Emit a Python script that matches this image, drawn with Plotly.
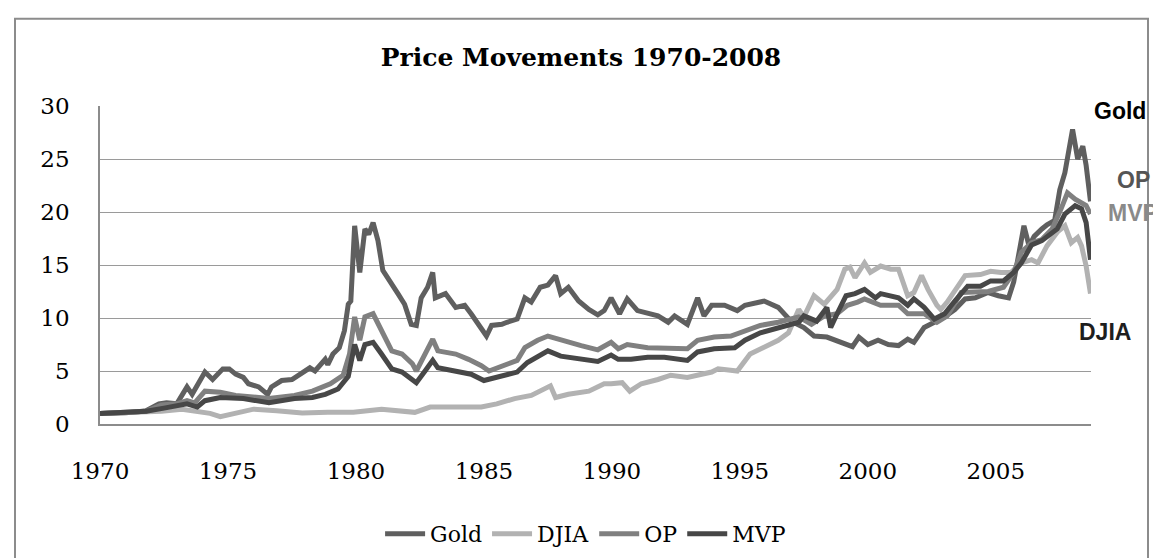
import plotly.graph_objects as go

# ---------------- data ----------------
gold_years = [1970.0, 1970.5, 1971.0, 1971.5, 1971.8, 1972.3, 1972.6, 1973.0, 1973.4, 1973.6,
              1974.1, 1974.4, 1974.8, 1975.05, 1975.3, 1975.6, 1975.8, 1976.2, 1976.55, 1976.7,
              1977.1, 1977.5, 1977.9, 1978.2, 1978.4, 1978.8, 1978.9, 1979.1, 1979.35, 1979.55,
              1979.7, 1979.8, 1979.95, 1980.15, 1980.35, 1980.5, 1980.67, 1980.86, 1981.05, 1981.25,
              1981.64, 1981.9, 1982.16, 1982.36, 1982.55, 1982.8, 1983.0, 1983.1, 1983.5, 1983.9,
              1984.25, 1984.5, 1984.8, 1985.1, 1985.3, 1985.7, 1985.9, 1986.3, 1986.6, 1986.85,
              1987.2, 1987.5, 1987.8, 1988.0, 1988.3, 1988.7, 1989.1, 1989.45, 1989.7, 1989.97,
              1990.3, 1990.6, 1991.0, 1991.4, 1991.8, 1992.2, 1992.45, 1992.95, 1993.35, 1993.6,
              1993.9, 1994.4, 1994.9, 1995.2, 1995.8, 1995.95, 1996.5, 1997.0, 1997.5, 1997.9,
              1998.4, 1999.1, 1999.4, 1999.65, 2000.0, 2000.4, 2000.8, 2001.2, 2001.56, 2001.8,
              2002.2, 2002.6, 2003.0, 2003.4, 2003.8, 2004.2, 2004.7, 2005.1, 2005.5, 2005.7,
              2006.1, 2006.3, 2006.5, 2006.8, 2007.0, 2007.3, 2007.5, 2007.7, 2007.87, 2008.0,
              2008.2, 2008.4, 2008.53, 2008.7]
gold_values = [1.0, 1.0, 1.05, 1.15, 1.26, 1.9, 2.0, 1.9, 3.5, 2.8,
               4.9, 4.2, 5.2, 5.2, 4.7, 4.4, 3.8, 3.5, 2.8, 3.5,
               4.1, 4.2, 4.9, 5.3, 5.0, 6.1, 5.6, 6.6, 7.2, 8.8,
               11.3, 11.6, 18.7, 14.3, 18.4, 17.9, 19.0, 17.3, 14.5, 13.8,
               12.3, 11.3, 9.4, 9.3, 11.9, 12.9, 14.3, 11.9, 12.3, 11.0,
               11.2, 10.4, 9.3, 8.3, 9.3, 9.4, 9.6, 9.9, 11.9, 11.5,
               12.9, 13.1, 14.0, 12.3, 12.9, 11.6, 10.8, 10.3, 10.7, 11.9,
               10.4, 11.8, 10.7, 10.4, 10.2, 9.6, 10.2, 9.4, 11.9, 10.2,
               11.2, 11.2, 10.7, 11.2, 11.5, 11.6, 11.0, 9.7, 9.1, 8.3,
               8.2, 7.5, 7.3, 8.2, 7.5, 7.9, 7.5, 7.4, 8.0, 7.7,
               9.1, 9.6, 10.1, 10.8, 11.8, 11.9, 12.4, 12.1, 11.9, 13.4,
               18.7, 16.8, 17.7, 18.4, 18.8, 19.2, 22.1, 23.7, 26.2, 27.8,
               25.0, 26.2, 24.4, 21.0]

djia_years = [1970.0, 1971.0, 1971.8, 1972.4, 1973.2, 1973.7, 1974.3, 1974.7, 1975.3, 1976.0,
              1976.9, 1977.9, 1978.9, 1979.9, 1981.0, 1982.3, 1982.9, 1983.6, 1984.2, 1984.9,
              1985.5, 1986.2, 1986.85, 1987.5, 1987.6, 1987.8, 1988.3, 1989.1, 1989.7, 1989.97,
              1990.4, 1990.7, 1991.15, 1991.8, 1992.3, 1992.95, 1993.9, 1994.15, 1994.65, 1994.9,
              1995.4, 1995.95, 1996.5, 1996.9, 1997.3, 1997.5, 1997.9, 1998.3, 1998.8, 1999.1,
              1999.3, 1999.5, 1999.87, 2000.1, 2000.5, 2000.9, 2001.2, 2001.56, 2001.8, 2002.1,
              2002.35, 2002.7, 2002.85, 2003.1, 2003.5, 2003.8, 2004.4, 2004.8, 2005.2, 2005.6,
              2006.0, 2006.4, 2006.65, 2007.0, 2007.4, 2007.7, 2007.95, 2008.2, 2008.35, 2008.53,
              2008.7]
djia_values = [1.0, 1.05, 1.15, 1.2, 1.4, 1.2, 1.0, 0.7, 1.0, 1.4,
               1.26, 1.04, 1.1, 1.1, 1.4, 1.1, 1.6, 1.6, 1.6, 1.6,
               1.9, 2.4, 2.7, 3.5, 3.6, 2.5, 2.8, 3.1, 3.8, 3.8,
               3.9, 3.1, 3.8, 4.2, 4.6, 4.4, 4.9, 5.2, 5.0, 5.0,
               6.6, 7.2, 7.9, 8.6, 10.8, 10.1, 12.1, 11.3, 12.7, 14.6,
               14.8, 13.8, 15.2, 14.3, 14.9, 14.6, 14.6, 12.1, 12.4, 14.0,
               12.7, 11.2, 10.8, 11.5, 12.9, 14.0, 14.1, 14.4, 14.3, 14.3,
               15.2, 15.5, 15.2, 16.8, 18.1, 18.7, 17.1, 17.6, 16.8, 14.9,
               12.3]

op_years = [1970.0, 1971.0, 1971.8, 1972.4, 1973.0, 1973.4, 1973.7, 1974.1, 1974.7, 1975.3,
            1976.0, 1976.6, 1977.6, 1978.3, 1979.0, 1979.5, 1979.75, 1979.95, 1980.15, 1980.35,
            1980.67, 1981.0, 1981.4, 1981.8, 1982.2, 1982.36, 1982.7, 1983.0, 1983.2, 1983.9,
            1984.4, 1984.9, 1985.2, 1985.8, 1986.3, 1986.6, 1987.1, 1987.5, 1988.0, 1988.8,
            1989.45, 1989.97, 1990.25, 1990.6, 1991.4, 1992.05, 1992.95, 1993.35, 1994.0, 1994.65,
            1995.2, 1995.8, 1996.5, 1997.3, 1997.8, 1998.3, 1998.8, 1999.2, 1999.6, 1999.87,
            2000.5, 2001.2, 2001.56, 2002.2, 2002.7, 2003.1, 2003.65, 2004.2, 2004.7, 2005.3,
            2005.7, 2006.0, 2006.4, 2006.8, 2007.2, 2007.55, 2007.8, 2008.1, 2008.35, 2008.53,
            2008.7]
op_values = [1.0, 1.05, 1.2, 1.8, 1.9, 2.2, 2.0, 3.1, 3.0, 2.7,
             2.6, 2.4, 2.7, 3.1, 3.8, 4.6, 6.6, 10.1, 7.9, 10.1,
             10.4, 8.8, 6.9, 6.6, 5.7, 5.0, 6.6, 8.0, 6.9, 6.6,
             6.1, 5.5, 5.0, 5.5, 6.0, 7.2, 7.9, 8.3, 8.0, 7.4,
             7.0, 7.7, 7.1, 7.5, 7.2, 7.2, 7.1, 7.9, 8.2, 8.3,
             8.8, 9.3, 9.6, 10.1, 9.4, 10.2, 10.4, 11.2, 11.5, 11.8,
             11.2, 11.2, 10.4, 10.4, 9.6, 10.2, 12.4, 12.4, 12.5, 12.9,
             14.3, 16.2, 17.1, 17.4, 18.4, 20.3, 21.8, 21.2, 20.9, 20.6,
             19.8]

mvp_years = [1970.0, 1971.0, 1971.8, 1972.5, 1973.4, 1973.8, 1974.1, 1974.7, 1975.6, 1976.6,
             1977.6, 1978.3, 1978.8, 1979.3, 1979.7, 1979.95, 1980.15, 1980.35, 1980.67, 1981.0,
             1981.4, 1981.8, 1982.2, 1982.36, 1982.7, 1983.0, 1983.2, 1983.9, 1984.5, 1985.0,
             1985.8, 1986.3, 1986.7, 1987.1, 1987.5, 1988.0, 1988.8, 1989.45, 1989.97, 1990.25,
             1990.75, 1991.4, 1992.05, 1992.95, 1993.35, 1994.0, 1994.8, 1995.2, 1995.8, 1996.5,
             1997.3, 1997.5, 1998.0, 1998.4, 1998.55, 1998.8, 1999.15, 1999.5, 1999.87, 2000.3,
             2000.5, 2001.2, 2001.56, 2001.8, 2002.2, 2002.6, 2003.0, 2003.4, 2003.9, 2004.4,
             2004.8, 2005.3, 2005.7, 2006.0, 2006.4, 2006.8, 2007.0, 2007.4, 2007.7, 2008.1,
             2008.35, 2008.53, 2008.7]
mvp_values = [1.0, 1.05, 1.2, 1.5, 1.9, 1.6, 2.2, 2.5, 2.4, 2.0,
              2.4, 2.5, 2.8, 3.3, 4.5, 7.5, 6.0, 7.5, 7.7, 6.6,
              5.2, 4.9, 4.1, 3.9, 5.0, 6.0, 5.3, 5.0, 4.7, 4.1,
              4.6, 4.9, 5.8, 6.3, 6.9, 6.4, 6.1, 5.9, 6.5, 6.1,
              6.1, 6.3, 6.3, 6.0, 6.8, 7.1, 7.2, 7.9, 8.6, 9.1,
              9.6, 10.2, 9.7, 11.0, 9.1, 10.4, 12.1, 12.3, 12.7, 11.9,
              12.3, 11.9, 11.2, 11.8, 11.0, 9.9, 10.4, 11.6, 13.0, 13.0,
              13.5, 13.5, 14.3, 15.2, 16.9, 17.3, 17.7, 18.4, 19.8, 20.6,
              20.3, 19.0, 15.5]

tick_years = [1970, 1975, 1980, 1985, 1990, 1995, 2000, 2005]
tick_labels = ["1970", "1975", "1980", "1985", "1990", "1995", "2000", "2005"]

series_names = ["Gold", "DJIA", "OP", "MVP"]
series_colors = ["#5f5f5f", "#b2b2b2", "#808080", "#474747"]

# end-of-line labels (text and colour as in the reference)
end_labels = ["Gold", "OP", "MVP", "DJIA"]
end_label_colors = ["#000000", "#555555", "#8a8a8a", "#1e1e1e"]

# ---------------- figure ----------------
SERIF = "DejaVu Serif"
SANS = "Liberation Sans"

fig = go.Figure()
all_x = [gold_years, djia_years, op_years, mvp_years]
all_y = [gold_values, djia_values, op_values, mvp_values]
for name, color, xs, ys in zip(series_names, series_colors, all_x, all_y):
    fig.add_trace(go.Scatter(
        x=xs, y=ys, mode="lines", name=name,
        line=dict(color=color, width=5),
        hoverinfo="x+y+name",
    ))

W, H = 1161, 558
L, R, T, B = 92, 78, 98, 141
pw, ph = W - L - R, H - T - B

def px_to_paper_x(px):
    return (px - L) / pw

def px_to_paper_y(py):
    return (H - B - py) / ph

fig.update_layout(
    width=W, height=H,
    margin=dict(l=L, r=R, t=T, b=B, pad=0),
    paper_bgcolor="white", plot_bgcolor="white",
    title=dict(text="<b>Price Movements 1970-2008</b>",
               font=dict(family=SERIF, size=25, color="black"),
               x=573 / W, xanchor="center", y=1 - 49 / H, yanchor="middle"),
    showlegend=True,
    legend=dict(orientation="h", x=0.49, xanchor="center",
                y=px_to_paper_y(526), yanchor="middle",
                font=dict(family=SERIF, size=22, color="black"),
                itemwidth=40, tracegroupgap=0, bgcolor="rgba(0,0,0,0)"),
    xaxis=dict(range=[1970, 2008.72], tickmode="array", tickvals=tick_years,
               ticktext=tick_labels, showgrid=False, zeroline=False,
               showline=True, linecolor="#8c8c8c", linewidth=2, ticks="",
               ticklabelstandoff=25,
               tickfont=dict(family=SERIF, size=23, color="black")),
    yaxis=dict(range=[0, 30], dtick=5, showgrid=True, gridcolor="#9a9a9a",
               gridwidth=1.3, zeroline=False, showline=True,
               linecolor="#8c8c8c", linewidth=1.5, ticks="",
               ticklabelstandoff=24,
               tickfont=dict(family=SERIF, size=23, color="black")),
)

# outer chart frame
fig.add_shape(type="rect", xref="paper", yref="paper",
              x0=px_to_paper_x(7), x1=px_to_paper_x(1140),
              y0=px_to_paper_y(575), y1=px_to_paper_y(10.5),
              line=dict(color="#8c8c8c", width=2), fillcolor="rgba(0,0,0,0)",
              layer="below")

label_pos = [(1112, 103), (1125, 172), (1125, 205), (1097, 325)]
for text, color, (lx, ly) in zip(end_labels, end_label_colors, label_pos):
    fig.add_annotation(text=f"<b>{text}</b>", xref="paper", yref="paper",
                       x=px_to_paper_x(lx), y=px_to_paper_y(ly),
                       xanchor="center", yanchor="middle", showarrow=False,
                       font=dict(family=SANS, size=23, color=color))

fig.write_html("out.html")
